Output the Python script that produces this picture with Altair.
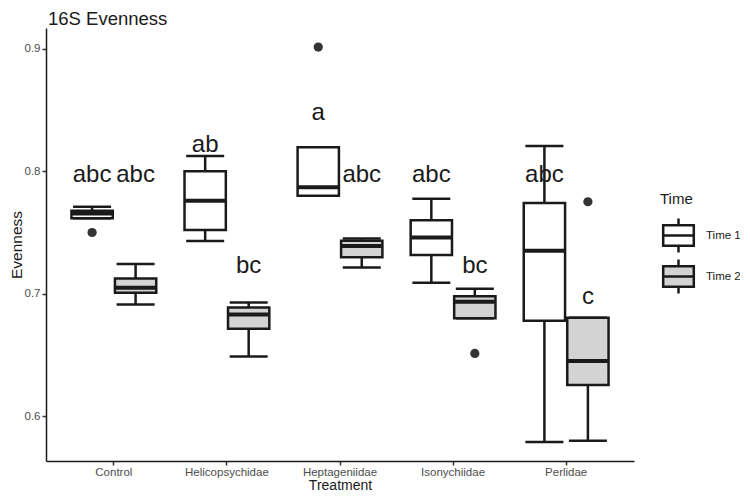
import altair as alt
import pandas as pd

treatments = ["Control", "Helicopsychidae", "Heptageniidae", "Isonychiidae", "Perlidae"]
times = ["Time 1", "Time 2"]

box_treatment = ["Control", "Control", "Helicopsychidae", "Helicopsychidae",
                 "Heptageniidae", "Heptageniidae", "Isonychiidae", "Isonychiidae",
                 "Perlidae", "Perlidae"]
box_time = ["Time 1", "Time 2"] * 5
box_lower = [0.7616, 0.6912, 0.743, 0.6487, 0.780, 0.7215, 0.709, 0.680, 0.579, 0.580]
box_q1 = [0.7616, 0.7007, 0.752, 0.6713, 0.780, 0.7297, 0.7316, 0.680, 0.678, 0.6255]
box_median = [0.7656, 0.7048, 0.776, 0.683, 0.7869, 0.739, 0.746, 0.6934, 0.735, 0.6451]
box_q3 = [0.7678, 0.7125, 0.800, 0.6888, 0.8196, 0.7433, 0.760, 0.698, 0.774, 0.6803]
box_upper = [0.771, 0.7242, 0.8125, 0.6929, 0.8196, 0.7452, 0.7776, 0.704, 0.8207, 0.6803]
letters = ["abc", "abc", "ab", "bc", "a", "abc", "abc", "bc", "abc", "c"]
letter_y = [0.7915, 0.7915, 0.816, 0.7166, 0.842, 0.7915, 0.7915, 0.7166, 0.7915, 0.692]

out_treatment = ["Control", "Heptageniidae", "Isonychiidae", "Perlidae"]
out_time = ["Time 1", "Time 1", "Time 2", "Time 2"]
out_value = [0.750, 0.9014, 0.6512, 0.7751]

y_ticks = [0.6, 0.7, 0.8, 0.9]
y_domain = [0.5634, 0.917]
chart_title = "16S Evenness"

boxes = pd.DataFrame({
    "Treatment": box_treatment, "Time": box_time, "lower": box_lower, "q1": box_q1,
    "median": box_median, "q3": box_q3, "upper": box_upper,
    "letter": letters, "letter_y": letter_y,
})
outliers = pd.DataFrame({"Treatment": out_treatment, "Time": out_time, "value": out_value})
title_df = pd.DataFrame({"title": [chart_title]})

FONT = "Liberation Sans"
INK = "#1a1a1a"

x_axis = alt.Axis(title="Treatment", labelAngle=0, values=treatments,
                  titleBaseline="alphabetic", titleY=28, titleFontSize=14,
                  labelPadding=1)
y_axis = alt.Axis(title="Evenness", values=y_ticks, format=".1f",
                  titleX=-25, titleY=216.5, titleAngle=270, titleBaseline="alphabetic",
                  titleAlign="center", labelPadding=2)
x_scale = alt.Scale(domain=treatments, paddingInner=0.25, paddingOuter=0.225)
xo_scale = alt.Scale(domain=times, paddingInner=0.05, paddingOuter=0)
y_scale = alt.Scale(domain=y_domain, nice=False, zero=False)


def X():
    return alt.X("Treatment:N", scale=x_scale, axis=x_axis, sort=treatments)


def XO():
    return alt.XOffset("Time:N", scale=xo_scale, sort=times)


def Y(field):
    return alt.Y(f"{field}:Q", scale=y_scale, axis=y_axis, title="Evenness")


base = alt.Chart(boxes)

whiskers = base.mark_rule(color=INK, strokeWidth=2.5, opacity=1).encode(
    x=X(), xOffset=XO(), y=Y("lower"), y2="upper:Q")

cap_low = base.mark_tick(color=INK, size=38, thickness=2.5, opacity=1).encode(
    x=X(), xOffset=XO(), y=Y("lower"))
cap_high = base.mark_tick(color=INK, size=38, thickness=2.5, opacity=1).encode(
    x=X(), xOffset=XO(), y=Y("upper"))

legend_path = "M-0.9,-0.6H0.9V0.6H-0.9Z M-0.9,0H0.9 M0,-0.6V-1 M0,0.6V1"

bars = base.mark_bar(stroke=INK, strokeWidth=2.5, opacity=1).encode(
    x=X(), xOffset=XO(), y=Y("q1"), y2="q3:Q",
    fill=alt.Fill("Time:N", scale=alt.Scale(domain=times, range=["white", "#d3d3d3"]),
                  legend=alt.Legend(title="Time", orient="none", legendX=614, legendY=164,
                                    symbolType=legend_path, symbolSize=1156,
                                    symbolStrokeColor=INK, symbolStrokeWidth=2.5,
                                    symbolOpacity=1,
                                    rowPadding=-9, labelOffset=9, titlePadding=10,
                                    labelFontSize=11.5, labelColor=INK, labelFont=FONT,
                                    titleFontSize=15, titleFontWeight="normal",
                                    titleColor=INK, titleFont=FONT)))

medians = base.mark_tick(color=INK, size=40, thickness=4, opacity=1).encode(
    x=X(), xOffset=XO(), y=Y("median"))

texts = base.mark_text(fontSize=24, font=FONT, color=INK, baseline="alphabetic",
                       align="center").encode(
    x=X(), xOffset=XO(), y=Y("letter_y"), text="letter:N")

points = alt.Chart(outliers).mark_circle(color="#333333", size=85, opacity=1).encode(
    x=X(), xOffset=XO(), y=Y("value"))

title_mark = alt.Chart(title_df).mark_text(
    fontSize=18.5, font=FONT, color=INK, align="left", baseline="alphabetic"
).encode(x=alt.value(2), y=alt.value(-3), text="title:N")

chart = alt.layer(whiskers, cap_low, cap_high, bars, medians, points, texts,
                  title_mark).properties(
    width=588, height=433,
    autosize=alt.AutoSizeParams(type="none"),
    padding={"left": 38, "top": 20, "right": 106, "bottom": 30},
).configure_view(stroke=None).configure_axis(
    grid=False, domainColor=INK, domainWidth=1.5, tickColor="#333333", tickWidth=1.5,
    tickSize=4, labelColor="#4d4d4d", labelFontSize=11.5, labelFont=FONT,
    titleFont=FONT, titleFontWeight="normal", titleFontSize=15.5, titleColor=INK,
)

chart.save("out.html", embed_options={"renderer": "svg", "actions": False})
